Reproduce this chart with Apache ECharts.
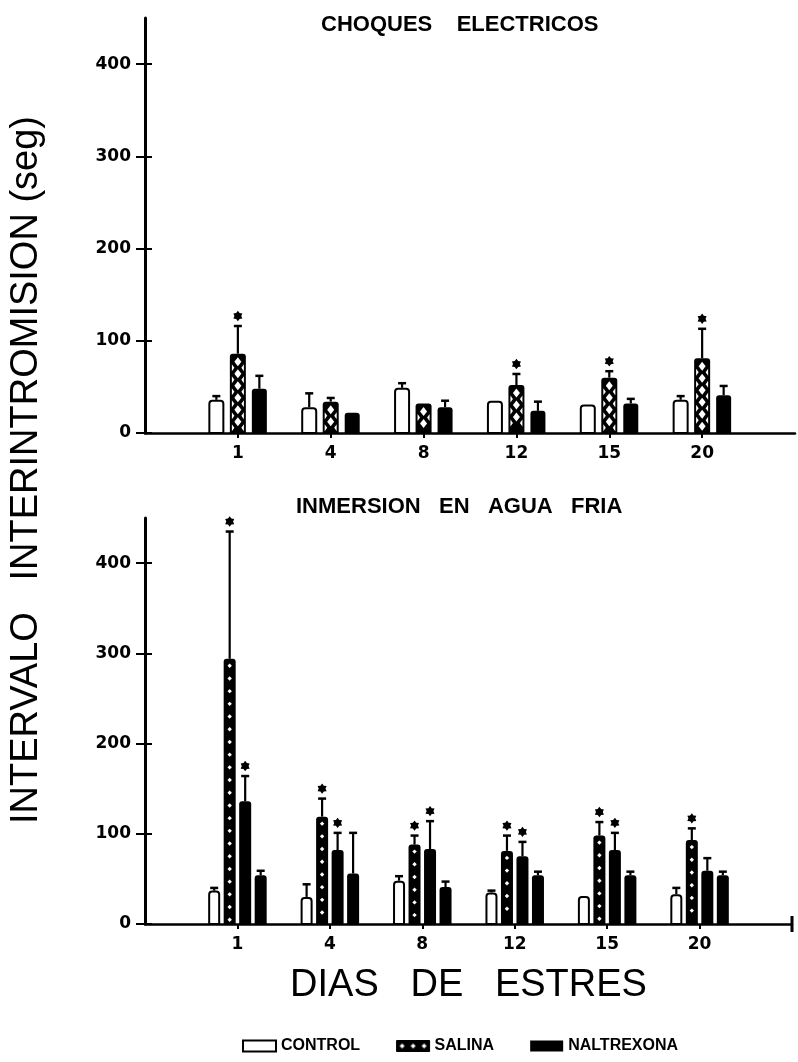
<!DOCTYPE html>
<html>
<head>
<meta charset="utf-8">
<script src="https://cdn.jsdelivr.net/npm/echarts@6/dist/echarts.min.js"></script>
<style>
  html, body { margin: 0; padding: 0; background: #fff; }
  #chart { width: 798px; height: 1062px; }
</style>
</head>
<body>
<div id="chart"></div>
<script>
// Stress days (x categories) and y tick values
const days = ['1', '4', '8', '12', '15', '20'];
const yTicks = [0, 100, 200, 300, 400];

// CHOQUES ELECTRICOS (seconds, mean and error)
const shockControl = [36, 28, 49, 35, 31, 36];
const shockControlErr = [4, 15, 5, 0, 0, 4];
const shockSalina = [86, 34, 32, 52, 60, 81];
const shockSalinaErr = [30, 4, 0, 12, 7, 32];
const shockSalinaSig = [1, 0, 0, 1, 1, 1];
const shockNaltrexona = [48, 22, 28, 24, 32, 41];
const shockNaltrexonaErr = [14, 0, 7, 10, 5, 10];
const shockNaltrexonaSig = [0, 0, 0, 0, 0, 0];

// INMERSION EN AGUA FRIA (seconds, mean and error)
const coldControl = [37, 30, 48, 35, 31, 33];
const coldControlErr = [3, 14, 5, 2, 0, 7];
const coldSalina = [294, 119, 88, 81, 98, 93];
const coldSalinaErr = [141, 20, 10, 17, 15, 13];
const coldSalinaSig = [1, 1, 1, 1, 1, 1];
const coldNaltrexonaA = [136, 82, 83, 75, 82, 59];
const coldNaltrexonaAErr = [28, 19, 31, 16, 19, 14];
const coldNaltrexonaASig = [1, 1, 1, 1, 1, 0];
const coldNaltrexonaB = [54, 56, 41, 54, 54, 54];
const coldNaltrexonaBErr = [5, 45, 6, 4, 4, 4];
const coldNaltrexonaBSig = [0, 0, 0, 0, 0, 0];

const noSig = [0, 0, 0, 0, 0, 0];
// x axis has an empty slot at each end, days sit at indices 1..6
const xCats = [''].concat(days, ['']);

function rows(vals, errs, sig) {
  return vals.map((v, i) => [i + 1, v, errs[i], sig[i]]);
}

function starPoints(cx, cy, ro, ri) {
  const pts = [];
  for (let k = 0; k < 12; k++) {
    const a = -Math.PI / 2 + k * Math.PI / 6;
    const r = k % 2 === 0 ? ro : ri;
    pts.push([cx + r * Math.cos(a), cy + r * Math.sin(a)]);
  }
  return pts;
}

function barRenderer(kind, slot, nSlots, barW, step) {
  return function (params, api) {
    const x = api.value(0), v = api.value(1), e = api.value(2), sig = api.value(3);
    const base = api.coord([x, 0]);
    const top = api.coord([x, v]);
    const cx = base[0] + (slot - (nSlots - 1) / 2) * step;
    const left = cx - barW / 2;
    const h = base[1] - top[1];
    const r = Math.min(3, h / 2);
    const children = [];
    if (kind === 'control') {
      children.push({ type: 'rect',
        shape: { x: left + 1, y: top[1] + 1, width: barW - 2, height: h - 1, r: [r, r, 0, 0] },
        style: { fill: '#fff', stroke: '#000', lineWidth: 2 } });
    } else {
      children.push({ type: 'rect',
        shape: { x: left, y: top[1], width: barW, height: h, r: [r, r, 0, 0] },
        style: { fill: '#000' } });
      if (kind === 'lattice') {
        const xl = left + 2, xr = left + barW - 2;
        for (let yc = top[1] + 8; yc + 4.5 < base[1] - 1; yc += 12) {
          children.push({ type: 'polygon',
            shape: { points: [[cx, yc - 4.5], [cx + 3.5, yc], [cx, yc + 4.5], [cx - 3.5, yc]] },
            style: { fill: '#fff' } });
        }
        for (let ye = top[1] + 14; ye + 4 < base[1] - 1; ye += 12) {
          children.push({ type: 'polygon',
            shape: { points: [[xl, ye - 3.5], [xl + 2.5, ye], [xl, ye + 3.5]] }, style: { fill: '#fff' } });
          children.push({ type: 'polygon',
            shape: { points: [[xr, ye - 3.5], [xr - 2.5, ye], [xr, ye + 3.5]] }, style: { fill: '#fff' } });
        }
      } else if (kind === 'dots') {
        for (let yc = top[1] + 7; yc + 2 < base[1] - 2; yc += 12.7) {
          children.push({ type: 'polygon',
            shape: { points: [[cx, yc - 2.2], [cx + 2.2, yc], [cx, yc + 2.2], [cx - 2.2, yc]] },
            style: { fill: '#fff' } });
        }
      }
    }
    let capY = top[1];
    if (e > 0) {
      const errTop = api.coord([x, v + e]);
      children.push({ type: 'line', shape: { x1: cx, y1: top[1], x2: cx, y2: errTop[1] },
        style: { stroke: '#000', lineWidth: 2.2 } });
      children.push({ type: 'line', shape: { x1: cx - 4, y1: errTop[1], x2: cx + 4, y2: errTop[1] },
        style: { stroke: '#000', lineWidth: 2.5 } });
      capY = errTop[1];
    }
    if (sig) {
      children.push({ type: 'polygon', shape: { points: starPoints(cx, capY - 10, 5.2, 3.4) },
        style: { fill: '#000' } });
    }
    return { type: 'group', children: children };
  };
}

// Legend swatch for SALINA: black with white diamonds
const salinaSwatch = document.createElement('canvas');
salinaSwatch.width = 11; salinaSwatch.height = 11;
(function () {
  const c = salinaSwatch.getContext('2d');
  c.fillStyle = '#000'; c.fillRect(0, 0, 11, 11);
  c.fillStyle = '#fff';
  c.beginPath(); c.moveTo(5.5, 3); c.lineTo(8, 5.5); c.lineTo(5.5, 8); c.lineTo(3, 5.5); c.closePath(); c.fill();
})();

const tickFont = { fontFamily: 'DejaVu Sans', fontWeight: 'bold', fontSize: 17, color: '#000' };

function mainY(grid) {
  return {
    type: 'value', gridIndex: grid, min: 0, max: 450, position: 'left',
    axisLine: { show: true, lineStyle: { color: '#000', width: 3 } },
    axisTick: { show: true, length: 9, customValues: yTicks, lineStyle: { color: '#000', width: 2 } },
    axisLabel: Object.assign({ margin: 14, customValues: yTicks }, tickFont),
    splitLine: { show: false }
  };
}
function innerY(grid) {
  return {
    type: 'value', gridIndex: grid, min: 0, max: 450, position: 'left',
    axisLine: { show: false },
    axisTick: { show: true, inside: true, length: 7, customValues: yTicks, lineStyle: { color: '#000', width: 2 } },
    axisLabel: { show: false },
    splitLine: { show: false }
  };
}
function catX(grid, extra) {
  return Object.assign({
    type: 'category', gridIndex: grid, data: xCats, boundaryGap: false,
    axisLine: { show: true, lineStyle: { color: '#000', width: 2.5 } },
    axisTick: { show: true, length: 5, interval: (i) => i >= 1 && i <= 6, lineStyle: { color: '#000', width: 2 } },
    axisLabel: Object.assign({ margin: 12, interval: 0 }, tickFont),
    splitLine: { show: false }
  }, extra || {});
}

function custom(name, xi, yi, data, kind, slot, n, w, step) {
  return {
    type: 'custom', name: name, xAxisIndex: xi, yAxisIndex: yi,
    data: data, encode: { x: 0, y: 1 },
    renderItem: barRenderer(kind, slot, n, w, step),
    itemStyle: { color: kind === 'control' ? '#fff' : '#000' },
    silent: true, animation: false
  };
}

const chart = echarts.init(document.getElementById('chart'), null, { renderer: 'canvas' });
chart.setOption({
  animation: false,
  backgroundColor: '#fff',
  title: [
    { text: 'CHOQUES    ELECTRICOS', left: 321, top: 14, padding: 0,
      textStyle: { fontFamily: 'Liberation Sans', fontWeight: 'bold', fontSize: 22, color: '#000' } },
    { text: 'INMERSION   EN   AGUA   FRIA', left: 296, top: 496, padding: 0,
      textStyle: { fontFamily: 'Liberation Sans', fontWeight: 'bold', fontSize: 22, color: '#000' } }
  ],
  legend: {
    top: 1038, left: 242, padding: 0, itemWidth: 33, itemHeight: 11, itemGap: 36,
    selectedMode: false,
    textStyle: { fontFamily: 'Liberation Sans', fontWeight: 'bold', fontSize: 16, color: '#000' },
    data: [
      { name: 'CONTROL', icon: 'rect', itemStyle: { color: '#fff', borderColor: '#000', borderWidth: 2 } },
      { name: 'SALINA', icon: 'rect', itemStyle: { color: { image: salinaSwatch, repeat: 'repeat' }, borderColor: '#000', borderWidth: 1 } },
      { name: 'NALTREXONA', icon: 'rect', itemStyle: { color: '#000' } }
    ]
  },
  graphic: [{
    type: 'text', x: 27, y: 470, rotation: Math.PI / 2,
    style: { text: 'INTERVALO   INTERINTROMISION (seg)', fill: '#000',
      font: '38px "Liberation Sans"', textAlign: 'center', textVerticalAlign: 'middle' }
  }],
  grid: [
    { left: 145, right: 1, top: 18, height: 415 },
    { left: 145, width: 647, top: 518, height: 406 }
  ],
  xAxis: [
    catX(0),
    catX(1, {
      axisLine: { show: true, symbol: ['none', 'rect'], symbolSize: [16, 3], symbolOffset: [0, 0],
        lineStyle: { color: '#000', width: 2.5 } },
      name: 'DIAS   DE   ESTRES', nameLocation: 'middle', nameGap: 43,
      nameTextStyle: { fontFamily: 'Liberation Sans', fontSize: 38, color: '#000' }
    })
  ],
  yAxis: [mainY(0), innerY(0), mainY(1), innerY(1)],
  series: [
    custom('CONTROL', 0, 0, rows(shockControl, shockControlErr, noSig), 'control', 0, 3, 16, 21.5),
    custom('SALINA', 0, 0, rows(shockSalina, shockSalinaErr, shockSalinaSig), 'lattice', 1, 3, 16, 21.5),
    custom('NALTREXONA', 0, 0, rows(shockNaltrexona, shockNaltrexonaErr, shockNaltrexonaSig), 'solid', 2, 3, 15, 21.5),
    custom('CONTROL', 1, 2, rows(coldControl, coldControlErr, noSig), 'control', 0, 4, 12, 15.5),
    custom('SALINA', 1, 2, rows(coldSalina, coldSalinaErr, coldSalinaSig), 'dots', 1, 4, 12, 15.5),
    custom('NALTREXONA', 1, 2, rows(coldNaltrexonaA, coldNaltrexonaAErr, coldNaltrexonaASig), 'solid', 2, 4, 12, 15.5),
    custom('NALTREXONA', 1, 2, rows(coldNaltrexonaB, coldNaltrexonaBErr, coldNaltrexonaBSig), 'solid', 3, 4, 12, 15.5)
  ]
});
</script>
</body>
</html>
